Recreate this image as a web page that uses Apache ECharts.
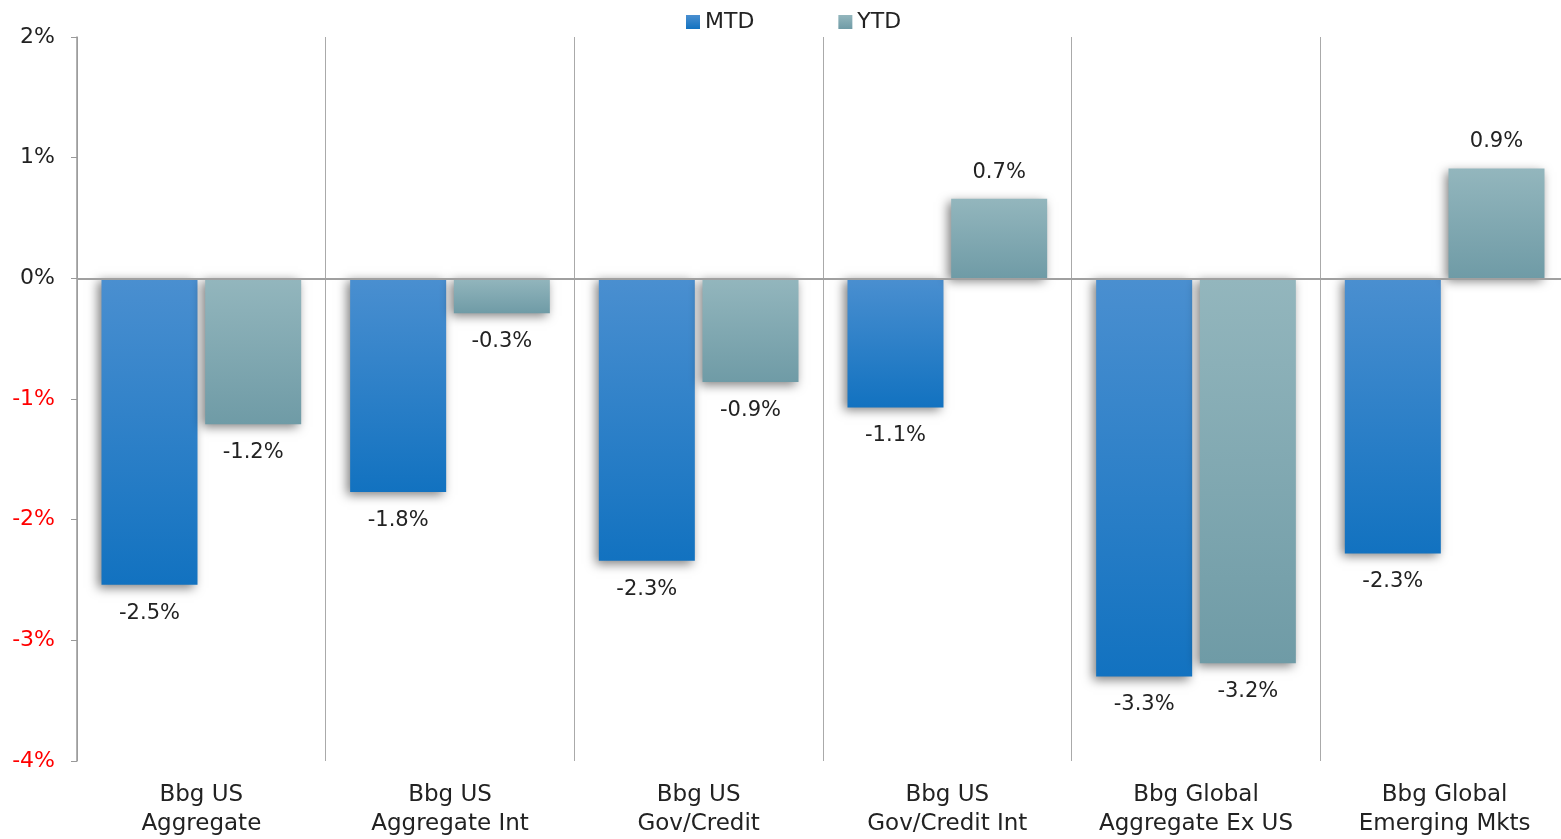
<!DOCTYPE html>
<html>
<head>
<meta charset="utf-8">
<script src="https://cdn.jsdelivr.net/npm/echarts@6/dist/echarts.min.js"></script>
<style>
  html, body { margin: 0; padding: 0; background: #fff; overflow: hidden; }
  /* the plot runs a few pixels past the right edge of the window, like the original */
  #main { width: 1580px; height: 839px; }
</style>
</head>
<body>
<div id="main"></div>
<script>
// categories and values (%)
var categories = [
  'Bbg US\nAggregate',
  'Bbg US\nAggregate Int',
  'Bbg US\nGov/Credit',
  'Bbg US\nGov/Credit Int',
  'Bbg Global\nAggregate Ex US',
  'Bbg Global\nEmerging Mkts'
];
var mtd = [-2.54, -1.77, -2.34, -1.07, -3.30, -2.28];
var ytd = [-1.21, -0.29, -0.86, 0.66, -3.19, 0.91];
var yTicks = { min: -4, max: 2, step: 1 };

var FONT = '"DejaVu Sans", "Noto Sans", sans-serif';

function grad(top, bottom) {
  return new echarts.graphic.LinearGradient(0, 0, 0, 1, [
    { offset: 0, color: top },
    { offset: 1, color: bottom }
  ]);
}

// put the label under negative bars and above positive ones
function toData(arr) {
  return arr.map(function (v) {
    return {
      value: v,
      label: { position: v < 0 ? 'bottom' : 'top', distance: v < 0 ? 18 : 16 }
    };
  });
}

var labelOpt = {
  show: true,
  fontFamily: FONT,
  fontSize: 21,
  color: '#222',
  formatter: function (p) { return p.value.toFixed(1) + '%'; }
};

var shadow = {
  shadowColor: 'rgba(0,0,0,0.5)',
  shadowBlur: 10,
  shadowOffsetX: -3,
  shadowOffsetY: 3
};

var myChart = echarts.init(document.getElementById('main'));
var option = {
  animation: false,
  textStyle: { fontFamily: FONT },
  legend: {
    top: 6,
    left: 681,
    itemWidth: 14,
    itemHeight: 14,
    itemGap: 84,
    icon: 'rect',
    textStyle: { fontFamily: FONT, fontSize: 22, color: '#222' },
    data: ['MTD', 'YTD']
  },
  grid: { left: 77, top: 37, width: 1492, height: 726 },
  xAxis: {
    type: 'category',
    data: categories,
    axisLine: { show: false },
    axisTick: { show: false },
    splitLine: { show: true, interval: 0, lineStyle: { color: '#aaa', width: 1 } },
    axisLabel: {
      interval: 0,
      margin: 20,
      fontFamily: FONT,
      fontSize: 23,
      lineHeight: 29,
      color: '#222'
    }
  },
  yAxis: {
    type: 'value',
    min: yTicks.min,
    max: yTicks.max,
    interval: yTicks.step,
    splitLine: { show: false },
    axisLine: { show: true, lineStyle: { color: '#999', width: 1.5 } },
    axisTick: { show: true, length: 6, lineStyle: { color: '#999' } },
    axisLabel: {
      margin: 22,
      fontFamily: FONT,
      fontSize: 22,
      formatter: function (v) { return v + '%'; },
      color: function (v) { return v < 0 ? '#ff0000' : '#222'; }
    }
  },
  series: [
    {
      name: 'MTD',
      type: 'bar',
      data: toData(mtd),
      barWidth: 96,
      barGap: '8%',
      itemStyle: Object.assign({ color: grad('#4a8fd0', '#1272c0') }, shadow),
      label: labelOpt,
      markLine: {
        silent: true,
        symbol: 'none',
        label: { show: false },
        lineStyle: { color: '#a0a0a0', type: 'solid', width: 2 },
        data: [{ yAxis: 0 }]
      }
    },
    {
      name: 'YTD',
      type: 'bar',
      data: toData(ytd),
      barWidth: 96,
      barGap: '8%',
      itemStyle: Object.assign({ color: grad('#93b6bd', '#6f9ba6') }, shadow),
      label: labelOpt
    }
  ]
};
myChart.setOption(option);
</script>
</body>
</html>
